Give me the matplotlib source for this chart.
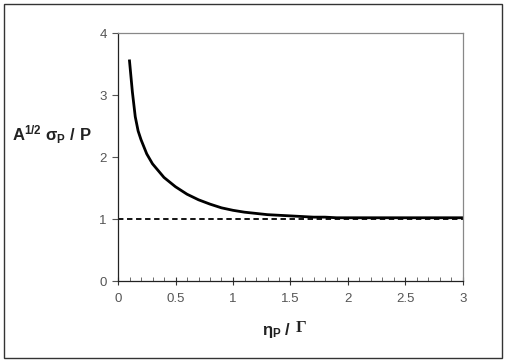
import matplotlib
matplotlib.use("Agg")
import matplotlib.pyplot as plt
from matplotlib.patches import Rectangle
import numpy as np

x_vals = [0.1, 0.125, 0.15, 0.175, 0.2, 0.25, 0.3, 0.4, 0.5, 0.6, 0.7, 0.8, 0.9, 1.0,
          1.1, 1.2, 1.3, 1.4, 1.5, 1.6, 1.7, 1.8, 1.9, 2.0,
          2.2, 2.4, 2.6, 2.8, 3.0]
y_vals = [3.55, 3.05, 2.65, 2.42, 2.28, 2.05, 1.89, 1.67, 1.52, 1.40, 1.31, 1.24, 1.18, 1.14,
          1.11, 1.09, 1.07, 1.06, 1.05, 1.04, 1.03, 1.03, 1.02, 1.02,
          1.02, 1.02, 1.02, 1.02, 1.02]
ref_x = [0, 3]
ref_y = [1, 1]
x_ticks = [0, 0.5, 1, 1.5, 2, 2.5, 3]
x_tick_labels = ["0", "0.5", "1", "1.5", "2", "2.5", "3"]
y_ticks = [0, 1, 2, 3, 4]
y_tick_labels = ["0", "1", "2", "3", "4"]

plt.rcParams['font.family'] = ['Liberation Sans', 'DejaVu Sans']
plt.rcParams['mathtext.fontset'] = 'custom'
plt.rcParams['mathtext.rm'] = 'Liberation Sans:bold'
plt.rcParams['mathtext.it'] = 'Liberation Sans:bold'
plt.rcParams['mathtext.bf'] = 'Liberation Sans:bold'

fig = plt.figure(figsize=(5.06, 3.62), dpi=100)
W, H = 506, 362
ax = fig.add_axes([118 / W, 1 - 281 / H, (463 - 118) / W, (281 - 33) / H])

ax.plot(x_vals, y_vals, color='black', lw=2.0, solid_joinstyle='round')
ax.plot(ref_x, ref_y, color='black', lw=1.3, ls=(0, (3, 2)))

ax.set_xlim(0, 3)
ax.set_ylim(0, 4)
ax.set_xticks(x_ticks)
ax.set_xticklabels(x_tick_labels)
ax.set_yticks(y_ticks)
ax.set_yticklabels(y_tick_labels)
ax.set_xticks(np.arange(0, 3.01, 0.1), minor=True)
ax.tick_params(axis='x', which='major', direction='inout', length=6, width=0.8,
               colors='#333333', labelcolor='#555555', labelsize=9.5, pad=6)
ax.tick_params(axis='x', which='minor', direction='in', length=3, width=0.6, colors='#555555')
ax.tick_params(axis='y', which='major', direction='out', length=4, width=0.8,
               colors='#555555', labelcolor='#555555', labelsize=9.5, pad=4)

ax.spines['left'].set_color('#222222')
ax.spines['bottom'].set_color('#222222')
ax.spines['top'].set_color('#888888')
ax.spines['right'].set_color('#888888')
for s in ax.spines.values():
    s.set_linewidth(0.9)

fig.text(12 / W, 1 - 135 / H, r"A$^{\mathregular{1/2}}$ $\mathregular{\sigma_{P}}$ / P",
         fontsize=12, fontweight='bold', color='#222222', ha='left', va='center')
fig.text(262 / W, 1 - 330 / H, r"$\eta_{P}$ /",
         fontsize=12, fontweight='bold', color='#222222', ha='left', va='center')
fig.text(296 / W, 1 - 328 / H, "Γ", family=['Liberation Serif', 'DejaVu Serif'],
         fontsize=12, fontweight='bold', color='#222222', ha='left', va='center')

fig.patches.append(Rectangle((4 / W, 4 / H), 498 / W, 354 / H, transform=fig.transFigure,
                             fill=False, edgecolor='#333333', lw=1.0))

fig.savefig("out.png", dpi=100)
